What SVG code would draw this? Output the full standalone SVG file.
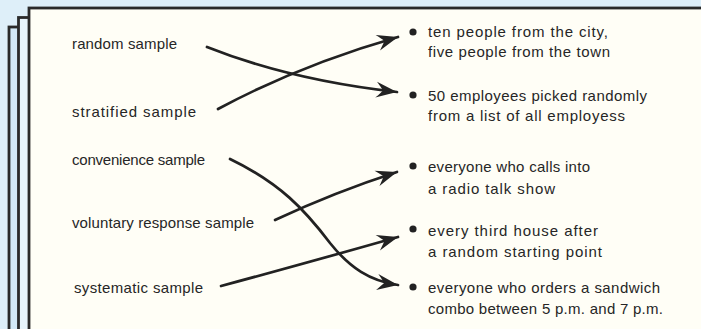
<svg xmlns="http://www.w3.org/2000/svg" width="701" height="329" viewBox="0 0 701 329">
<style>
.lbl{font-family:"Liberation Sans",Arial,sans-serif;font-size:15px;fill:#262626}
.conn{fill:none;stroke:#222;stroke-width:2.7;stroke-linecap:round}
.dot{fill:#222}
.page{stroke:#2a2a2a;stroke-width:2.8}
</style>
<defs>
<marker id="ah" viewBox="-23 -10 24 20" refX="0" refY="0" markerWidth="24" markerHeight="20" markerUnits="userSpaceOnUse" orient="auto">
<path d="M0,0 L-21,-8 Q-16,-2.5 -14,0 Q-16,2.5 -21,8 Z" fill="#222"/>
</marker>
</defs>
<rect x="0" y="0" width="701" height="329" fill="#deeff9"/>
<g id="pages">
<rect class="page" x="9" y="27" width="720" height="340" fill="#d3e9f7"/>
<rect class="page" x="18.5" y="17.5" width="720" height="340" fill="#e7f4fc"/>
<rect class="page" x="29" y="8" width="720" height="340" fill="#fffef6"/>
</g>
<g id="connectors">
<path class="conn" d="M207,47 Q290,80 397,92" marker-end="url(#ah)"/>
<path class="conn" d="M218,109 Q300,65 398,37" marker-end="url(#ah)"/>
<path class="conn" d="M230,159 C280,183 305,210 330,243 C350,268 370,281 398,285" marker-end="url(#ah)"/>
<path class="conn" d="M275,220 Q335,192 397,172" marker-end="url(#ah)"/>
<path class="conn" d="M221,286 Q310,262 398,237" marker-end="url(#ah)"/>
</g>
<g id="left-random"><text class="lbl" x="72" y="49" textLength="105" lengthAdjust="spacing">random sample</text></g>
<g id="left-stratified"><text class="lbl" x="72" y="117" textLength="124" lengthAdjust="spacing">stratified sample</text></g>
<g id="left-convenience"><text class="lbl" x="72" y="165" textLength="133" lengthAdjust="spacing">convenience sample</text></g>
<g id="left-voluntary"><text class="lbl" x="72" y="228" textLength="182" lengthAdjust="spacing">voluntary response sample</text></g>
<g id="left-systematic"><text class="lbl" x="74" y="293" textLength="129" lengthAdjust="spacing">systematic sample</text></g>
<g id="right-city">
<circle class="dot" cx="413" cy="32" r="3.6"/>
<text class="lbl" x="428" y="37" textLength="180" lengthAdjust="spacing">ten people from the city,</text>
<text class="lbl" x="428" y="57" textLength="182" lengthAdjust="spacing">five people from the town</text>
</g>
<g id="right-employees">
<circle class="dot" cx="413" cy="95" r="3.6"/>
<text class="lbl" x="428" y="101" textLength="219" lengthAdjust="spacing">50 employees picked randomly</text>
<text class="lbl" x="428" y="121" textLength="197" lengthAdjust="spacing">from a list of all employess</text>
</g>
<g id="right-radio">
<circle class="dot" cx="413" cy="166" r="3.6"/>
<text class="lbl" x="428" y="172" textLength="162" lengthAdjust="spacing">everyone who calls into</text>
<text class="lbl" x="428" y="194" textLength="127" lengthAdjust="spacing">a radio talk show</text>
</g>
<g id="right-house">
<circle class="dot" cx="413" cy="229" r="3.6"/>
<text class="lbl" x="428" y="236" textLength="170" lengthAdjust="spacing">every third house after</text>
<text class="lbl" x="428" y="257" textLength="174" lengthAdjust="spacing">a random starting point</text>
</g>
<g id="right-sandwich">
<circle class="dot" cx="413" cy="287" r="3.6"/>
<text class="lbl" x="428" y="293" textLength="232" lengthAdjust="spacing">everyone who orders a sandwich</text>
<text class="lbl" x="428" y="314" textLength="235" lengthAdjust="spacing">combo between 5 p.m. and 7 p.m.</text>
</g>
</svg>
